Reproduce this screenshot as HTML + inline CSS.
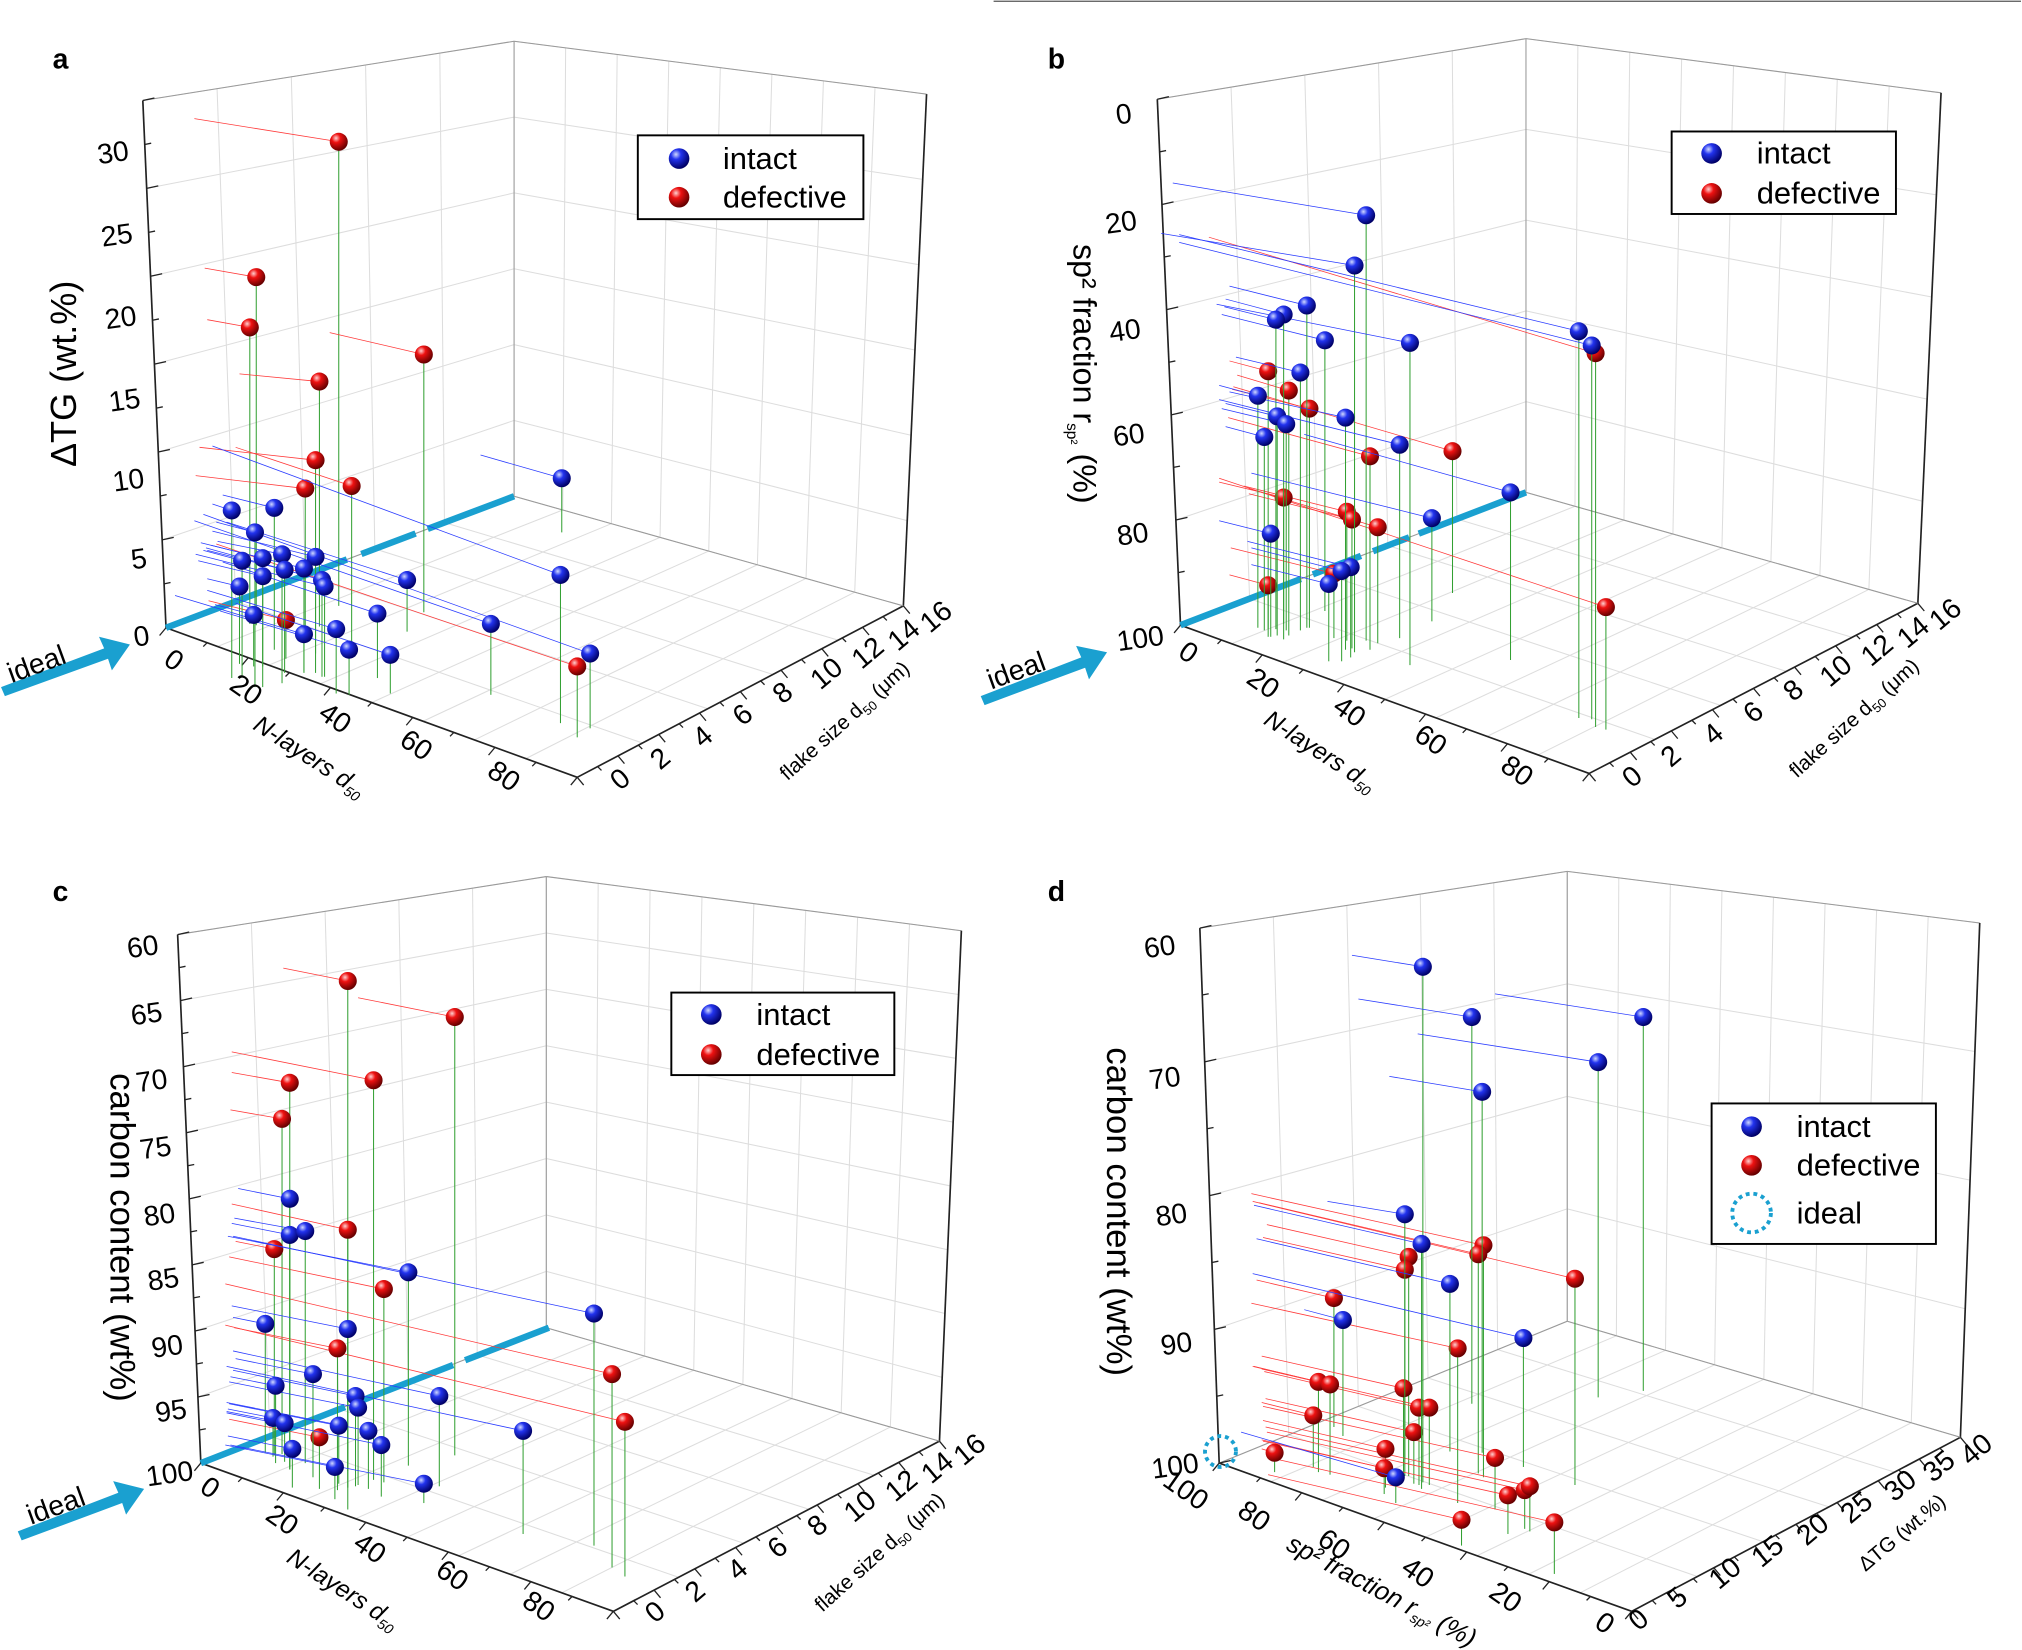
<!DOCTYPE html>
<html><head><meta charset="utf-8"><style>
html,body{margin:0;padding:0;background:#fff}
svg{display:block}
text{font-family:"Liberation Sans",sans-serif;fill:#000}
</style></head><body>
<svg id="s" width="2022" height="1650" viewBox="0 0 1567 1280" xmlns="http://www.w3.org/2000/svg">
<defs>
<radialGradient id="gb" cx="0.35" cy="0.3" r="0.7"><stop offset="0" stop-color="#cfd8ff"/><stop offset="0.35" stop-color="#2233ee"/><stop offset="1" stop-color="#000066"/></radialGradient>
<radialGradient id="gr" cx="0.35" cy="0.3" r="0.7"><stop offset="0" stop-color="#ffd0d0"/><stop offset="0.35" stop-color="#ee1111"/><stop offset="1" stop-color="#660000"/></radialGradient>
</defs>
<rect width="1567" height="1280" fill="#fff"/>
<line x1="770" y1="1" x2="1567" y2="1" stroke="#555" stroke-width="1"/>
<g id="grid"></g>
<g id="data"></g>
<text x="40" y="53" font-size="22" font-weight="bold">a</text>
<text x="812" y="53" font-size="22" font-weight="bold">b</text>
<text x="40" y="699" font-size="22" font-weight="bold">c</text>
<text x="812" y="699" font-size="22" font-weight="bold">d</text>
<g font-size="22" text-anchor="end">
<text x="100" y="124" transform="rotate(-8 100 124)">30</text>
<text x="103" y="188" transform="rotate(-8 103 188)">25</text>
<text x="106" y="252" transform="rotate(-8 106 252)">20</text>
<text x="109" y="316" transform="rotate(-8 109 316)">15</text>
<text x="112" y="378" transform="rotate(-8 112 378)">10</text>
<text x="114" y="440" transform="rotate(-8 114 440)">5</text>
<text x="116" y="500" transform="rotate(-8 116 500)">0</text>
</g>
<text x="58" y="290" font-size="28" text-anchor="middle" transform="rotate(-90 58 290)">ΔTG (wt.%)</text>
<g font-size="22" text-anchor="middle">
<text x="130" y="518" transform="rotate(35 130 518)">0</text>
<text x="186" y="541" transform="rotate(35 186 541)">20</text>
<text x="255" y="563" transform="rotate(35 255 563)">40</text>
<text x="318" y="584" transform="rotate(35 318 584)">60</text>
<text x="386" y="608" transform="rotate(35 386 608)">80</text>
<text x="485" y="610" transform="rotate(-40 485 610)">0</text>
<text x="516" y="594" transform="rotate(-40 516 594)">2</text>
<text x="549" y="577" transform="rotate(-40 549 577)">4</text>
<text x="580" y="560" transform="rotate(-40 580 560)">6</text>
<text x="611" y="543" transform="rotate(-40 611 543)">8</text>
<text x="645" y="528" transform="rotate(-40 645 528)">10</text>
<text x="677" y="512" transform="rotate(-40 677 512)">12</text>
<text x="705" y="498" transform="rotate(-40 705 498)">14</text>
<text x="730" y="484" transform="rotate(-40 730 484)">16</text>
</g>
<text x="236" y="592" font-size="19" font-style="italic" text-anchor="middle" transform="rotate(33 236 592)">N-layers d<tspan font-size="11" dy="4">50</tspan></text>
<text x="658" y="563" font-size="16" text-anchor="middle" transform="rotate(-42 658 563)">flake size d<tspan font-size="10" dy="4">50</tspan><tspan dy="-4"> (μm)</tspan></text>
<g font-size="22" text-anchor="end">
<text x="878" y="95" transform="rotate(-8 878 95)">0</text>
<text x="882" y="178" transform="rotate(-8 882 178)">20</text>
<text x="885" y="262" transform="rotate(-8 885 262)">40</text>
<text x="888" y="343" transform="rotate(-8 888 343)">60</text>
<text x="891" y="420" transform="rotate(-8 891 420)">80</text>
<text x="903" y="500" transform="rotate(-8 903 500)">100</text>
</g>
<text x="832" y="290" font-size="25" text-anchor="middle" transform="rotate(90 832 290)">sp² fraction r<tspan font-size="12" dy="5">sp²</tspan><tspan dy="-5"> (%)</tspan></text>
<g font-size="22" text-anchor="middle">
<text x="917" y="512" transform="rotate(35 917 512)">0</text>
<text x="975" y="536" transform="rotate(35 975 536)">20</text>
<text x="1042" y="558" transform="rotate(35 1042 558)">40</text>
<text x="1105" y="580" transform="rotate(35 1105 580)">60</text>
<text x="1172" y="604" transform="rotate(35 1172 604)">80</text>
<text x="1270" y="608" transform="rotate(-40 1270 608)">0</text>
<text x="1300" y="592" transform="rotate(-40 1300 592)">2</text>
<text x="1333" y="575" transform="rotate(-40 1333 575)">4</text>
<text x="1364" y="558" transform="rotate(-40 1364 558)">6</text>
<text x="1395" y="541" transform="rotate(-40 1395 541)">8</text>
<text x="1428" y="526" transform="rotate(-40 1428 526)">10</text>
<text x="1460" y="510" transform="rotate(-40 1460 510)">12</text>
<text x="1488" y="496" transform="rotate(-40 1488 496)">14</text>
<text x="1513" y="482" transform="rotate(-40 1513 482)">16</text>
</g>
<text x="1020" y="588" font-size="19" font-style="italic" text-anchor="middle" transform="rotate(33 1020 588)">N-layers d<tspan font-size="11" dy="4">50</tspan></text>
<text x="1441" y="561" font-size="16" text-anchor="middle" transform="rotate(-42 1441 561)">flake size d<tspan font-size="10" dy="4">50</tspan><tspan dy="-4"> (μm)</tspan></text>
<g font-size="22" text-anchor="end">
<text x="123" y="740" transform="rotate(-8 123 740)">60</text>
<text x="126" y="792" transform="rotate(-8 126 792)">65</text>
<text x="130" y="844" transform="rotate(-8 130 844)">70</text>
<text x="133" y="896" transform="rotate(-8 133 896)">75</text>
<text x="136" y="948" transform="rotate(-8 136 948)">80</text>
<text x="139" y="998" transform="rotate(-8 139 998)">85</text>
<text x="142" y="1050" transform="rotate(-8 142 1050)">90</text>
<text x="145" y="1100" transform="rotate(-8 145 1100)">95</text>
<text x="150" y="1148" transform="rotate(-8 150 1148)">100</text>
</g>
<text x="85" y="960" font-size="27" text-anchor="middle" transform="rotate(90 85 960)">carbon content (wt%)</text>
<g font-size="22" text-anchor="middle">
<text x="158" y="1160" transform="rotate(35 158 1160)">0</text>
<text x="214" y="1185" transform="rotate(35 214 1185)">20</text>
<text x="282" y="1207" transform="rotate(35 282 1207)">40</text>
<text x="346" y="1228" transform="rotate(35 346 1228)">60</text>
<text x="413" y="1252" transform="rotate(35 413 1252)">80</text>
<text x="512" y="1256" transform="rotate(-40 512 1256)">0</text>
<text x="543" y="1240" transform="rotate(-40 543 1240)">2</text>
<text x="576" y="1223" transform="rotate(-40 576 1223)">4</text>
<text x="607" y="1206" transform="rotate(-40 607 1206)">6</text>
<text x="638" y="1189" transform="rotate(-40 638 1189)">8</text>
<text x="671" y="1174" transform="rotate(-40 671 1174)">10</text>
<text x="703" y="1158" transform="rotate(-40 703 1158)">12</text>
<text x="731" y="1144" transform="rotate(-40 731 1144)">14</text>
<text x="756" y="1130" transform="rotate(-40 756 1130)">16</text>
</g>
<text x="262" y="1238" font-size="19" font-style="italic" text-anchor="middle" transform="rotate(33 262 1238)">N-layers d<tspan font-size="11" dy="4">50</tspan></text>
<text x="685" y="1208" font-size="16" text-anchor="middle" transform="rotate(-42 685 1208)">flake size d<tspan font-size="10" dy="4">50</tspan><tspan dy="-4"> (μm)</tspan></text>
<g font-size="22" text-anchor="end">
<text x="912" y="740" transform="rotate(-8 912 740)">60</text>
<text x="916" y="842" transform="rotate(-8 916 842)">70</text>
<text x="921" y="948" transform="rotate(-8 921 948)">80</text>
<text x="925" y="1048" transform="rotate(-8 925 1048)">90</text>
<text x="930" y="1142" transform="rotate(-8 930 1142)">100</text>
</g>
<text x="858" y="940" font-size="27" text-anchor="middle" transform="rotate(90 858 940)">carbon content (wt%)</text>
<g font-size="22" text-anchor="middle">
<text x="915" y="1162" transform="rotate(35 915 1162)">100</text>
<text x="968" y="1182" transform="rotate(35 968 1182)">80</text>
<text x="1030" y="1204" transform="rotate(35 1030 1204)">60</text>
<text x="1095" y="1226" transform="rotate(35 1095 1226)">40</text>
<text x="1163" y="1245" transform="rotate(35 1163 1245)">20</text>
<text x="1240" y="1265" transform="rotate(35 1240 1265)">0</text>
<text x="1275" y="1262" transform="rotate(-40 1275 1262)">0</text>
<text x="1305" y="1245" transform="rotate(-40 1305 1245)">5</text>
<text x="1342" y="1226" transform="rotate(-40 1342 1226)">10</text>
<text x="1375" y="1209" transform="rotate(-40 1375 1209)">15</text>
<text x="1410" y="1192" transform="rotate(-40 1410 1192)">20</text>
<text x="1444" y="1175" transform="rotate(-40 1444 1175)">25</text>
<text x="1478" y="1158" transform="rotate(-40 1478 1158)">30</text>
<text x="1508" y="1143" transform="rotate(-40 1508 1143)">35</text>
<text x="1537" y="1130" transform="rotate(-40 1537 1130)">40</text>
</g>
<text x="1068" y="1240" font-size="20" font-style="italic" text-anchor="middle" transform="rotate(28 1068 1240)">sp² fraction r<tspan font-size="11" dy="4">sp²</tspan><tspan dy="-4"> (%)</tspan></text>
<text x="1478" y="1193" font-size="16" text-anchor="middle" transform="rotate(-40 1478 1193)">ΔTG (wt.%)</text>
<g fill="#1aa0d0">
<polygon points="0,533 80,503 76,494 100,500 86,520 83,511 3,540"/>
<polygon points="760,540 838,510 834,501 858,506 844,527 841,518 763,547"/>
<polygon points="13,1188 91,1158 87,1149 111,1155 97,1175 94,1166 16,1195"/>
</g>
<text x="30" y="522" font-size="22" text-anchor="middle" transform="rotate(-20 30 522)">ideal</text>
<text x="790" y="527" font-size="22" text-anchor="middle" transform="rotate(-20 790 527)">ideal</text>
<text x="45" y="1175" font-size="22" text-anchor="middle" transform="rotate(-20 45 1175)">ideal</text>
<circle cx="946" cy="1126" r="12" fill="none" stroke="#1aa0d0" stroke-width="3" stroke-dasharray="3 3"/>
<g font-size="24">
<rect x="494" y="105" width="175" height="65" fill="#fff" stroke="#000" stroke-width="1.5"/>
<circle cx="526" cy="123" r="8" fill="url(#gb)"/><text x="560" y="131">intact</text>
<circle cx="526" cy="153" r="8" fill="url(#gr)"/><text x="560" y="161">defective</text>
<rect x="1296" y="102" width="174" height="64" fill="#fff" stroke="#000" stroke-width="1.5"/>
<circle cx="1327" cy="119" r="8" fill="url(#gb)"/><text x="1362" y="127">intact</text>
<circle cx="1327" cy="150" r="8" fill="url(#gr)"/><text x="1362" y="158">defective</text>
<rect x="520" y="770" width="173" height="64" fill="#fff" stroke="#000" stroke-width="1.5"/>
<circle cx="551" cy="787" r="8" fill="url(#gb)"/><text x="586" y="795">intact</text>
<circle cx="551" cy="818" r="8" fill="url(#gr)"/><text x="586" y="826">defective</text>
<rect x="1327" y="856" width="174" height="109" fill="#fff" stroke="#000" stroke-width="1.5"/>
<circle cx="1358" cy="874" r="8" fill="url(#gb)"/><text x="1393" y="882">intact</text>
<circle cx="1358" cy="904" r="8" fill="url(#gr)"/><text x="1393" y="912">defective</text>
<circle cx="1358" cy="941" r="15" fill="none" stroke="#1aa0d0" stroke-width="3" stroke-dasharray="3 3"/><text x="1393" y="949">ideal</text>
</g>
</svg>
<script>
var NS="http://www.w3.org/2000/svg";
var G=document.getElementById("grid"),D=document.getElementById("data");
function el(p,t,a){var e=document.createElementNS(NS,t);for(var k in a)e.setAttribute(k,a[k]);p.appendChild(e);return e;}
function L(p,x1,y1,x2,y2,c,w,da){var a={x1:x1,y1:y1,x2:x2,y2:y2,stroke:c,"stroke-width":w};if(da)a["stroke-dasharray"]=da;el(p,"line",a);}
function lerp(a,b,t){return[a[0]+(b[0]-a[0])*t,a[1]+(b[1]-a[1])*t];}
function quad(A,B,C,Dd,nu,nv){
 for(var i=0;i<=nu;i++){var t=i/nu,p=lerp(A,B,t),q=lerp(Dd,C,t);L(G,p[0],p[1],q[0],q[1],"#ddd",0.8);}
 for(var j=0;j<=nv;j++){var t=j/nv,p=lerp(A,Dd,t),q=lerp(B,C,t);L(G,p[0],p[1],q[0],q[1],"#ddd",0.8);}
}
function panel(P){
 quad(P.tl,P.tb,P.bb,P.bl,P.nu,P.nz);
 quad(P.tb,P.tr,P.br,P.bb,P.nv,P.nz);
 quad(P.bl,P.bb,P.br,P.bf,P.nu,P.nv);
 var e=[[P.tl,P.tb],[P.tb,P.tr],[P.tb,P.bb],[P.tl,P.bl],[P.tr,P.br],[P.bl,P.bf],[P.bf,P.br],[P.bl,P.bb],[P.bb,P.br]];
 e.forEach(function(s,i){L(G,s[0][0],s[0][1],s[1][0],s[1][1],i<3||i==7||i==8?"#999":"#222",i<3||i==7||i==8?0.8:1.3);});
 for(var j=0;j<=P.nz*2;j++){var p=lerp(P.tl,P.bl,j/(P.nz*2));L(G,p[0],p[1],p[0]+(j%2?5:9),p[1]+(j%2?-1:-2),"#222",1);}
 for(var j=0;j<=P.nu*2;j++){var p=lerp(P.bl,P.bf,j/(P.nu*2));L(G,p[0],p[1],p[0]-(j%2?3:5),p[1]+(j%2?3:6),"#222",1);}
 for(var j=0;j<=P.nv*2;j++){var p=lerp(P.bf,P.br,j/(P.nv*2));L(G,p[0],p[1],p[0]+(j%2?3:5),p[1]+(j%2?3:6),"#222",1);}
}
panel({tl:[110,78],tb:[398,32],tr:[718,73],bl:[128,487],bb:[398,385],br:[700,470],bf:[447,603],nu:5,nv:8,nz:6});
panel({tl:[897,77],tb:[1183,30],tr:[1505,72],bl:[915,485],bb:[1183,382],br:[1487,468],bf:[1232,600],nu:5,nv:8,nz:5});
panel({tl:[137,725],tb:[423,680],tr:[745,722],bl:[155,1135],bb:[423,1030],br:[728,1118],bf:[475,1250],nu:5,nv:8,nz:8});
panel({tl:[930,720],tb:[1215,676],tr:[1535,716],bl:[945,1135],bb:[1215,1025],br:[1520,1115],bf:[1265,1250],nu:5,nv:8,nz:4});
L(D,128,487,398,385,"#1aa0d0",5,"150 12 45 10 60 0");
L(D,915,485,1183,382,"#1aa0d0",5,"100 10 40 10 30 8 200");
L(D,155,1135,425,1030,"#1aa0d0",5,"120 10 80 10 200");
function pts(list,col,dx,dy,stem){
 var c=col=="b"?"#2a3cff":"#ff3a3a";
 list.forEach(function(p){
  var sx=p[0]+(p[2]!==undefined?p[2]:dx),sy=p[1]+(p[3]!==undefined?p[3]:dy);
  L(D,p[0],p[1],sx,sy,c,0.6);
  L(D,p[0],p[1]+6,p[0],p[1]+(p[4]||stem),"#33a033",0.8);
 });
 list.forEach(function(p){el(D,"circle",{cx:p[0],cy:p[1],r:7,fill:"url(#g"+col+")"});});
}
pts([[262,110,-112,-18,360],[198,215,-40,-7,270],[193,254,-33,-6,230],[247,296,-62,-6,190],[328,275,-73,-17,200],[244,357,-90,-10,150],[236,379,-85,-10,110],[272,377,-90,-30,130],[221,481,-60,-15,30],[447,517,-280,-95,55]],"r",-60,-10,100);
pts([[435,371,-63,-18,42],[434,446,-270,-100,115],[457,507,-300,-108,58],[380,484,-230,-80,55],[179,396,-15,-5,130],[197,413,-30,-8,120],[212,394,-40,-10,110],[187,435,-30,-8,90],[203,433,-40,-10,100],[218,430,-50,-10,100],[244,432,-80,-20,90],[235,441,-80,-20,80],[220,442,-60,-15,80],[203,447,-50,-12,70],[185,455,-25,-6,60],[249,450,-90,-25,75],[251,455,-100,-25,70],[315,450,-140,-45,40],[292,476,-120,-40,50],[196,477,-30,-8,40],[235,492,-100,-30,30],[260,488,-100,-30,50],[270,504,-100,-30,35],[302,508,-120,-40,30]],"b",-60,-10,60);
pts([[1237,274,-300,-90,290],[983,288,-30,-8,200],[999,303,-40,-12,190],[1015,317,-60,-15,170],[1126,350,-170,-50,110],[1062,354,-110,-30,150],[995,386,-50,-12,110],[1044,397,-80,-20,100],[1048,403,-80,-20,100],[1068,409,-100,-30,90],[1245,471,-300,-100,95],[983,454,-30,-8,40],[1034,445,-80,-20,50]],"r",-60,-10,100);
pts([[1059,167,-150,-25,330],[1050,206,-150,-25,300],[1224,257,-310,-75,300],[1234,268,-320,-80,290],[1093,266,-150,-30,250],[1027,264,-80,-20,210],[1013,237,-60,-15,250],[995,244,-45,-12,240],[989,248,-40,-10,240],[1008,289,-50,-12,200],[975,307,-30,-8,180],[990,323,-40,-10,170],[997,329,-50,-12,160],[1043,324,-90,-20,180],[980,339,-30,-8,150],[1085,345,-140,-35,150],[1171,382,-160,-45,130],[1110,402,-140,-35,80],[985,414,-40,-10,80],[1047,440,-80,-20,70],[1040,443,-70,-18,70],[1030,453,-60,-15,60]],"b",-60,-10,60);
pts([[269,761,-50,-10,410],[352,789,-75,-15,340],[224,840,-45,-8,300],[289,838,-110,-22,310],[218,868,-40,-7,260],[269,954,-90,-20,200],[212,969,-30,-6,160],[297,1000,-120,-25,150],[261,1046,-80,-16,110],[474,1066,-300,-70,150],[484,1103,-310,-75,120],[247,1115,-70,-14,40]],"r",-60,-10,100);
pts([[460,1019,-280,-60,180],[224,930,-40,-8,210],[224,958,-45,-9,180],[236,955,-55,-10,180],[316,987,-140,-28,150],[205,1027,-25,-5,100],[269,1031,-90,-18,110],[242,1066,-60,-12,80],[213,1075,-35,-7,60],[275,1083,-95,-20,70],[277,1092,-100,-20,60],[340,1083,-160,-35,70],[211,1100,-35,-7,30],[220,1104,-45,-9,30],[262,1106,-85,-17,45],[285,1110,-110,-22,45],[295,1121,-120,-25,40],[226,1124,-50,-10,30],[259,1138,-85,-17,25],[328,1151,-150,-30,15],[405,1110,-230,-50,80]],"b",-60,-10,60);
pts([[1150,966,-180,-40,180],[1092,975,-110,-25,170],[1146,973,-170,-40,170],[1089,985,-110,-25,160],[1221,992,-250,-60,160],[1130,1046,-160,-35,120],[1034,1007,-60,-14,100],[1022,1072,-50,-12,70],[1031,1074,-60,-14,70],[1088,1077,-110,-25,70],[1100,1092,-120,-28,60],[1108,1092,-130,-30,60],[1018,1098,-40,-10,40],[1096,1111,-115,-26,40],[1074,1124,-95,-22,30],[1073,1139,-95,-22,20],[1159,1131,-180,-40,40],[1133,1179,-150,-35,20],[1169,1160,-190,-42,30],[1182,1156,-200,-45,30],[1186,1153,-205,-46,35],[1205,1181,-220,-50,40],[988,1127,-10,-3,15]],"r",-60,-10,100);
pts([[1103,750,-55,-9,400],[1141,789,-88,-14,300],[1274,789,-115,-18,290],[1239,824,-140,-22,260],[1149,847,-72,-12,280],[1089,942,-60,-10,190],[1102,965,-130,-30,190],[1124,996,-150,-35,130],[1181,1038,-210,-50,100],[1041,1024,-30,-8,90],[1082,1146,-120,-35,20]],"b",-60,-10,60);
</script>
</body></html>
